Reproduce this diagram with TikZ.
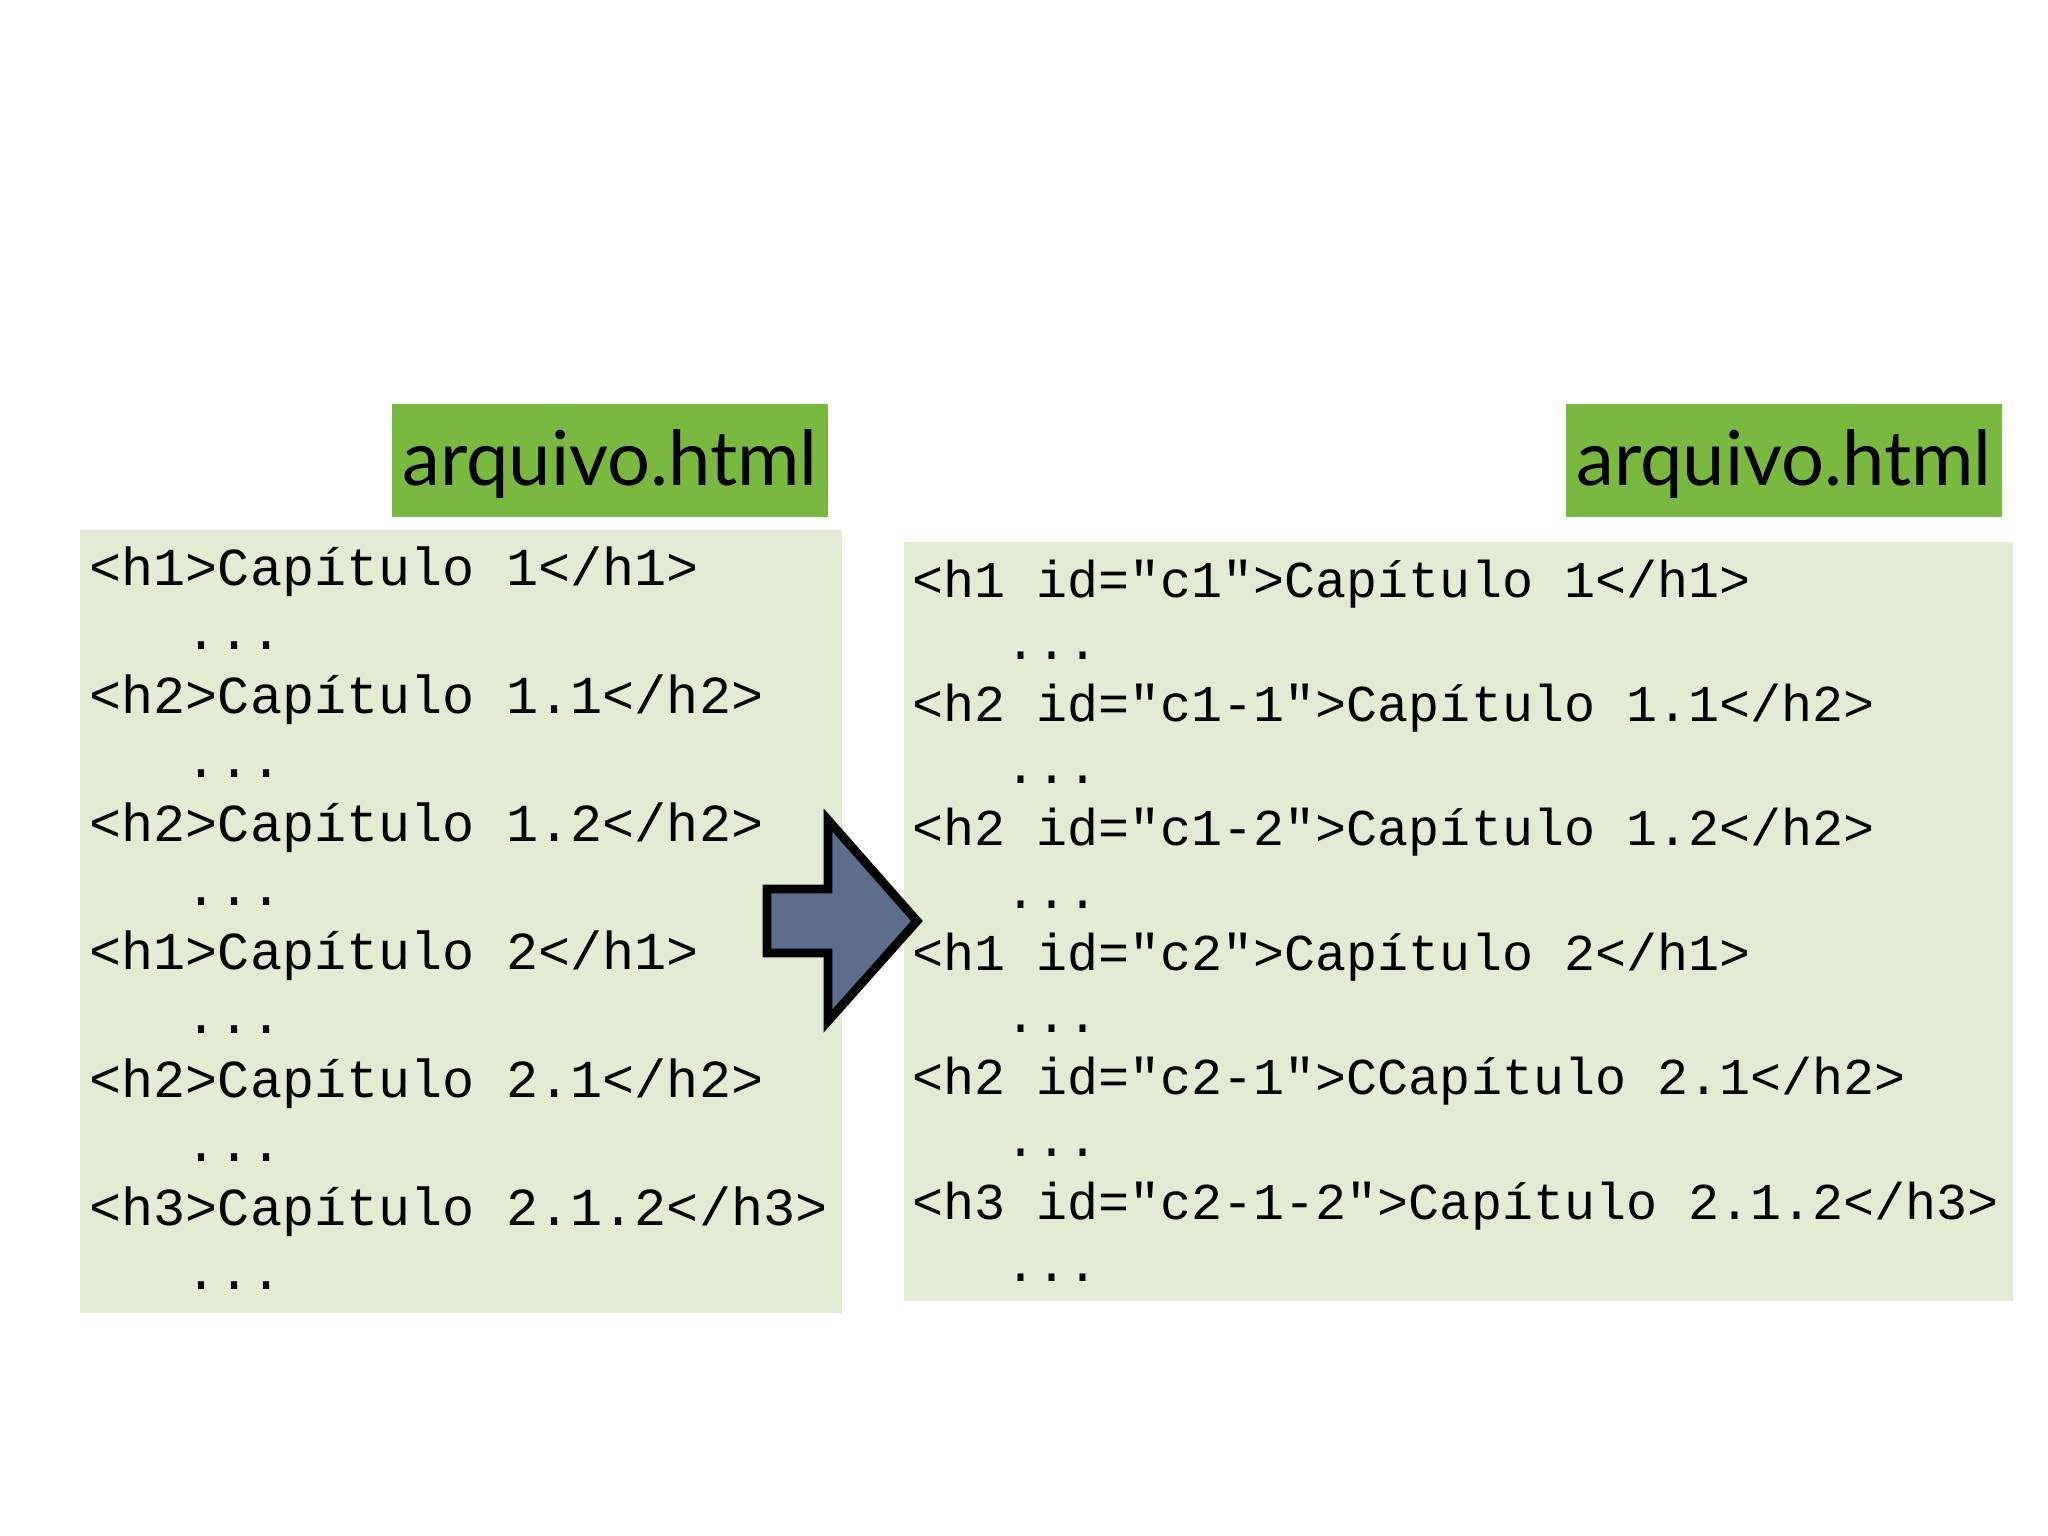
\documentclass[tikz,border=0pt]{standalone}
\usepackage{fontspec}
\setmonofont{Liberation Mono}
\newfontfamily\labfont{Lato}
\definecolor{labgreen}{HTML}{7AB940}
\definecolor{boxgreen}{HTML}{E3EBD5}
\definecolor{arrowblue}{HTML}{5B6F8D}
\newcommand{\dd}{\phantom{xxx}.{}.{}.}
\begin{document}
\begin{tikzpicture}[x=0.01cm,y=-0.01cm,
  lline/.style={anchor=base west,inner sep=0pt,font=\ttfamily\fontsize{15.2}{16}\selectfont},
  rline/.style={anchor=base west,inner sep=0pt,font=\ttfamily\fontsize{14.7}{16}\selectfont}]
\useasboundingbox (0,0) rectangle (2048,1536);
\fill[white] (0,0) rectangle (2048,1536);
% label boxes
\fill[labgreen] (392,404) rectangle (828,517);
\node (l1) at (610,464) {\resizebox{4.15cm}{!}{\labfont arquivo.html}};
\fill[labgreen] (1566,404) rectangle (2002,517);
\node (l2) at (1784,464) {\resizebox{4.15cm}{!}{\labfont arquivo.html}};
% code boxes
\fill[boxgreen] (80,530) rectangle (842,1313);
\fill[boxgreen] (904,542) rectangle (2013,1301);
% left text
\foreach \t [count=\i from 0] in {{<h1>Capítulo 1</h1>},\dd,{<h2>Capítulo 1.1</h2>},\dd,{<h2>Capítulo 1.2</h2>},\dd,{<h1>Capítulo 2</h1>},\dd,{<h2>Capítulo 2.1</h2>},\dd,{<h3>Capítulo 2.1.2</h3>},\dd}
  \node[lline] (L\i) at (89,{585+64*\i}) {\t};
% right text
\foreach \t [count=\i from 0] in {{<h1 id="c1">Capítulo 1</h1>},\dd,{<h2 id="c1-1">Capítulo 1.1</h2>},\dd,{<h2 id="c1-2">Capítulo 1.2</h2>},\dd,{<h1 id="c2">Capítulo 2</h1>},\dd,{<h2 id="c2-1">CCapítulo 2.1</h2>},\dd,{<h3 id="c2-1-2">Capítulo 2.1.2</h3>},\dd}
  \node[rline] (R\i) at (912,{597+62.2*\i}) {\t};
% arrow
\draw[fill=arrowblue,line width=2.5pt,line join=miter] (767,889) -- (828,889) -- (828,820) -- (917,921) -- (828,1021) -- (828,953) -- (767,953) -- cycle;
\end{tikzpicture}
\end{document}
